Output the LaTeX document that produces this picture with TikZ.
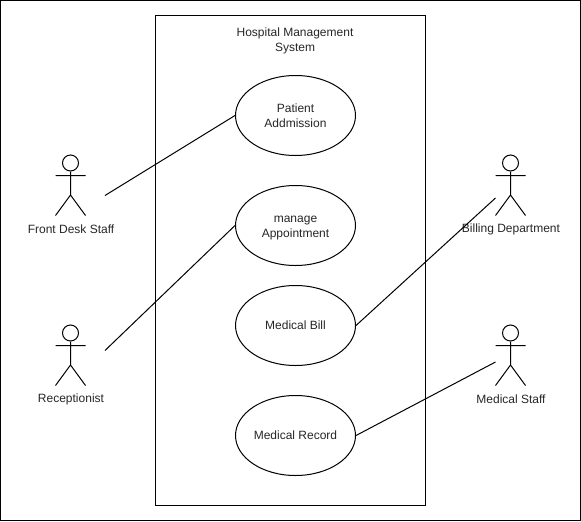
\documentclass[tikz,border=0pt]{standalone}
\usepackage{fontspec}
\setmainfont{Liberation Sans}
\usetikzlibrary{shapes.geometric}
\tikzset{every picture/.style={line width=0.75pt}}
\tikzset{usecase/.style={draw,ellipse,minimum width=90pt,minimum height=60pt,inner sep=0pt,align=center,font=\fontsize{9}{11.25}\selectfont,text=black!85}}
\tikzset{label text/.style={align=center,font=\fontsize{9}{11.25}\selectfont,text=black!85}}
\tikzset{head/.style={draw,circle,minimum size=12pt,inner sep=0pt}}

\begin{document}
\begin{tikzpicture}[x=0.75pt,y=0.75pt,yscale=-1,xscale=1]
\useasboundingbox (0,0) rectangle (581,521);

%Shape: Outer frame
\draw  (0.5,0.5) rectangle (580,520.3) ;
%Shape: System box
\draw  (155.5,15.5) rectangle (425,505) ;
\node [label text] (title) at (295,40.5) {Hospital Management\\System};

%Shape: Use cases
\node [usecase] (admission) at (295.5,115.5) {Patient\\Addmission};
\node [usecase] (appointment) at (295.5,225.5) {\strut manage\\Appointment};
\node [usecase] (bill) at (295.5,325.5) {Medical Bill};
\node [usecase] (record) at (295.5,435.5) {Medical Record};

%Shape: Actor, Front Desk Staff
\node [head] (fronthead) at (70.5,163) {};
\draw  (fronthead.south) -- (70.5,195) (55.5,175.5) -- (85.5,175.5) (55.5,215.5) -- (70.5,195) -- (85.5,215.5) ;
\node [label text] (front) at (71,229) {Front Desk Staff};
\coordinate (frontend) at (105,195.5);

%Shape: Actor, Receptionist
\node [head] (receptionhead) at (70.5,333) {};
\draw  (receptionhead.south) -- (70.5,365) (55.5,345.5) -- (85.5,345.5) (55.5,385.5) -- (70.5,365) -- (85.5,385.5) ;
\node [label text] (reception) at (71,399) {Receptionist};
\coordinate (receptionend) at (105,350.5);

%Shape: Actor, Billing Department
\node [head] (billinghead) at (510.5,163) {};
\draw  (billinghead.south) -- (510.5,195) (495.5,175.5) -- (525.5,175.5) (495.5,215.5) -- (510.5,195) -- (525.5,215.5) ;
\node [label text] (billing) at (511,229) {Billing Department};
\coordinate (billingend) at (495.5,198);

%Shape: Actor, Medical Staff
\node [head] (staffhead) at (510.5,333) {};
\draw  (staffhead.south) -- (510.5,365) (495.5,345.5) -- (525.5,345.5) (495.5,385.5) -- (510.5,365) -- (525.5,385.5) ;
\node [label text] (staff) at (511,399) {Medical Staff};
\coordinate (staffend) at (495.5,362);

%Straight Lines
\draw    (frontend) -- (admission.west) ;
\draw    (receptionend) -- (appointment.west) ;
\draw    (bill.east) -- (billingend) ;
\draw    (record.east) -- (staffend) ;

\end{tikzpicture}
\end{document}
